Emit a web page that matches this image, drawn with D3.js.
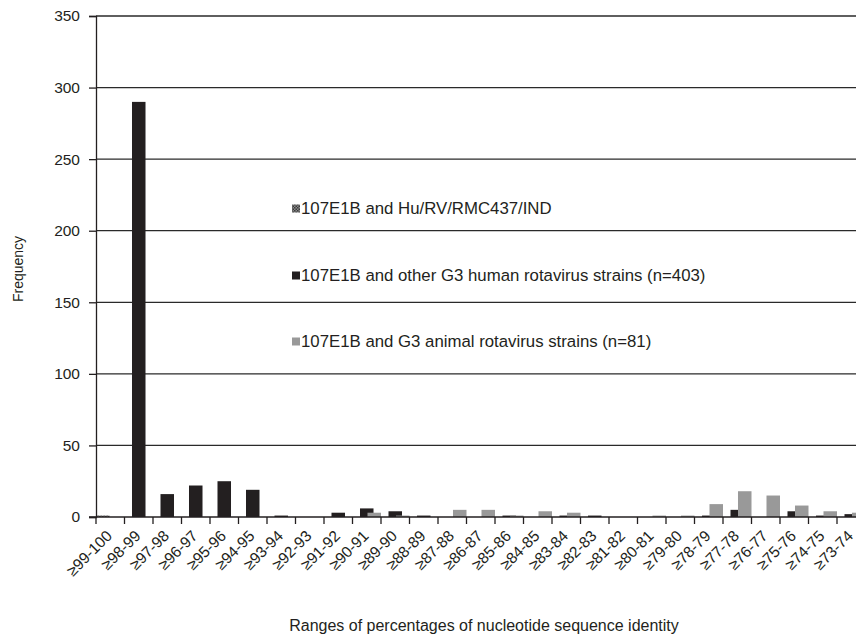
<!DOCTYPE html>
<html>
<head>
<meta charset="utf-8">
<script src="https://cdn.jsdelivr.net/npm/d3@7/dist/d3.min.js"></script>
<style>
  html, body { margin: 0; padding: 0; background: #fff; }
  svg { display: block; font-family: "Liberation Sans", Arial, sans-serif; }
</style>
</head>
<body>
<div id="chart"></div>
<script>
// Identity ranges (percent nucleotide identity), highest first
const categories = [
  "≥99-100", "≥98-99", "≥97-98", "≥96-97", "≥95-96", "≥94-95", "≥93-94",
  "≥92-93", "≥91-92", "≥90-91", "≥89-90", "≥88-89", "≥87-88", "≥86-87",
  "≥85-86", "≥84-85", "≥83-84", "≥82-83", "≥81-82", "≥80-81", "≥79-80",
  "≥78-79", "≥77-78", "≥76-77", "≥75-76", "≥74-75", "≥73-74"
];

// Frequencies per range for each comparison set
const rmc437 = [1, 0, 0, 0, 0, 0, 0, 0, 0, 0, 0, 0, 0, 0, 0, 0, 0, 0, 0, 0, 0, 0, 0, 0, 0, 0, 0];
const humanG3 = [0, 290, 16, 22, 25, 19, 1, 0, 3, 6, 4, 1, 0, 0, 1, 0, 1, 1, 0, 0, 0, 1, 5, 0, 4, 1, 2];
const animalG3 = [0, 0, 0, 0, 0, 0, 0, 0, 0, 3, 1, 0, 5, 5, 1, 4, 3, 0, 0, 1, 1, 9, 18, 15, 8, 4, 3];

const seriesNames = [
  "107E1B and Hu/RV/RMC437/IND",
  "107E1B and other G3 human rotavirus strains (n=403)",
  "107E1B and G3 animal rotavirus strains (n=81)"
];
const seriesValues = [rmc437, humanG3, animalG3];

const yTicks = [0, 50, 100, 150, 200, 250, 300, 350];

const W = 856, H = 637;
const plotLeft = 96, plotTop = 16, plotBottom = 517;
const catStep = 28.5;
const ink = "#231f20";

const svg = d3.select("#chart").append("svg")
  .attr("width", W).attr("height", H);

const defs = svg.append("defs");
const pat = defs.append("pattern")
  .attr("id", "hatch").attr("patternUnits", "userSpaceOnUse")
  .attr("width", 3).attr("height", 3);
pat.append("rect").attr("width", 3).attr("height", 3).attr("fill", "#8a8a8a");
pat.append("rect").attr("width", 1.5).attr("height", 1.5).attr("fill", "#3a3a3a");
pat.append("rect").attr("x", 1.5).attr("y", 1.5).attr("width", 1.5).attr("height", 1.5).attr("fill", "#3a3a3a");

const seriesFill = ["url(#hatch)", ink, "#999999"];

const x = d3.scaleBand()
  .domain(categories)
  .range([plotLeft, plotLeft + catStep * categories.length])
  .paddingInner(0).paddingOuter(0);

const y = d3.scaleLinear().domain([0, 350]).range([plotBottom, plotTop]);

// Overlapping clustered bars: three series stepped across each category
const bw = x.bandwidth();
const sub = d3.scaleLinear().domain([0, 2]).range([0, bw * 0.526]);
const barW = bw * 0.474;

// Gridlines
svg.append("g")
  .selectAll("line")
  .data(yTicks.filter(t => t > 0))
  .join("line")
  .attr("x1", plotLeft).attr("x2", W)
  .attr("y1", d => y(d)).attr("y2", d => y(d))
  .attr("stroke", "#2a2a2a").attr("stroke-width", 1.3);

// Bars
seriesValues.forEach((vals, si) => {
  svg.append("g")
    .selectAll("rect")
    .data(vals.map((v, i) => ({ v, c: categories[i] })).filter(d => d.v > 0))
    .join("rect")
    .attr("x", d => x(d.c) + sub(si))
    .attr("width", barW)
    .attr("y", d => y(d.v))
    .attr("height", d => y(0) - y(d.v))
    .attr("fill", seriesFill[si]);
});

// Y axis
const yAxis = svg.append("g")
  .attr("transform", `translate(${plotLeft},0)`)
  .call(d3.axisLeft(y).tickValues(yTicks).tickSize(7).tickPadding(9));
yAxis.select(".domain").attr("stroke", ink).attr("stroke-width", 1.3);
yAxis.selectAll(".tick line").attr("stroke", ink).attr("stroke-width", 1.3);
yAxis.selectAll("text").attr("font-size", 15.5).attr("fill", ink)
  .attr("font-family", "'Liberation Sans', Arial, sans-serif");

// X axis: ticks at category boundaries
const xg = svg.append("g");
xg.append("line")
  .attr("x1", plotLeft - 7).attr("x2", W)
  .attr("y1", y(0)).attr("y2", y(0))
  .attr("stroke", ink).attr("stroke-width", 1.3);
xg.selectAll("line.tk")
  .data(categories)
  .join("line")
  .attr("class", "tk")
  .attr("x1", d => x(d) + bw)
  .attr("x2", d => x(d) + bw)
  .attr("y1", y(0)).attr("y2", y(0) + 7)
  .attr("stroke", ink).attr("stroke-width", 1.3);
xg.append("line")
  .attr("x1", plotLeft).attr("x2", plotLeft)
  .attr("y1", y(0)).attr("y2", y(0) + 7)
  .attr("stroke", ink).attr("stroke-width", 1.3);

xg.selectAll("text")
  .data(categories)
  .join("text")
  .attr("transform", d => `translate(${x(d) + bw / 2 - 5},${y(0) + 12}) rotate(-45)`)
  .attr("text-anchor", "end")
  .attr("dy", "0.71em")
  .attr("font-size", 15.5)
  .attr("fill", ink)
  .text(d => d);

// Axis titles
svg.append("text")
  .attr("transform", `translate(23,269) rotate(-90)`)
  .attr("text-anchor", "middle")
  .attr("font-size", 14).attr("fill", ink)
  .text("Frequency");

svg.append("text")
  .attr("x", 484).attr("y", 631)
  .attr("text-anchor", "middle")
  .attr("font-size", 16).attr("fill", ink)
  .text("Ranges of percentages of nucleotide sequence identity");

// Legend
const legendY = [208.5, 275.5, 341.5];
const lg = svg.append("g");
seriesNames.forEach((name, i) => {
  lg.append("rect")
    .attr("x", 292).attr("y", legendY[i] - 4)
    .attr("width", 8).attr("height", 8)
    .attr("fill", seriesFill[i]);
  lg.append("text")
    .attr("x", 301).attr("y", legendY[i])
    .attr("dy", "0.35em")
    .attr("font-size", 16.8).attr("fill", ink)
    .text(name);
});
</script>
</body>
</html>
